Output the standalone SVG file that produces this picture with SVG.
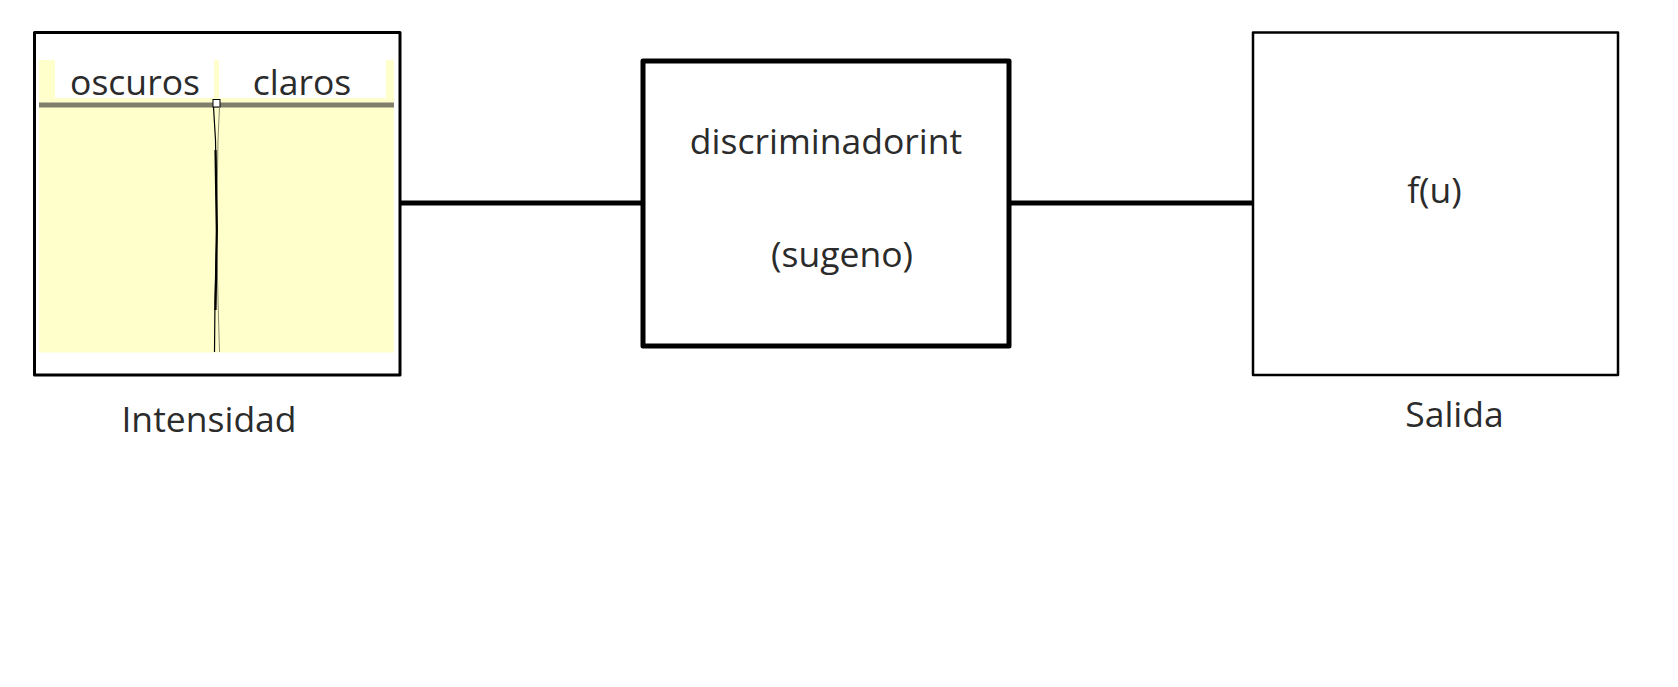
<svg xmlns="http://www.w3.org/2000/svg" width="1678" height="687" viewBox="0 0 1678 687">
<style>
.t{font-family:"Open Sans","Noto Sans","DejaVu Sans",sans-serif;fill:#2b2b2b;text-anchor:middle;font-size:35.5px}
.box{fill:#ffffff;stroke:#000000;stroke-linejoin:round}
.conn{stroke:#000000;stroke-width:5;fill:none}
</style>
<rect width="1678" height="687" fill="#ffffff"/>
<g id="connectors">
<line class="conn" x1="400" y1="203" x2="643" y2="203"/>
<line class="conn" x1="1009" y1="203" x2="1253" y2="203"/>
</g>
<g id="intensidad">
<rect class="box" x="34.5" y="32.5" width="365.5" height="342.5" stroke-width="3"/>
<rect x="39" y="60" width="355" height="292.5" fill="#ffffcc"/>
<rect x="55" y="60" width="159" height="38" fill="#ffffff"/>
<rect x="219" y="60" width="167" height="38" fill="#ffffff"/>
<rect x="39" y="102.5" width="355" height="5" fill="#7f7f6b"/>
<rect x="213" y="99.5" width="7" height="7.5" fill="#ffffff" stroke="#000" stroke-width="1"/>
<path d="M213.5 107 L215.5 140 L217 230 L215 300 L214.5 352" fill="none" stroke="#000" stroke-width="1.2"/>
<path d="M219.5 107 L218 140 L216.5 230 L218 300 L219.5 352" fill="none" stroke="#8a8a70" stroke-width="1"/>
<path d="M215.5 150 L216.8 230 L215.5 310" fill="none" stroke="#000" stroke-width="2.2"/>
<text class="t" x="135" y="95">oscuros</text>
<text class="t" x="302" y="95">claros</text>
<text class="t" x="209" y="432">Intensidad</text>
</g>
<g id="discriminador">
<rect class="box" x="643" y="61" width="366" height="285" stroke-width="5"/>
<text class="t" x="826" y="154">discriminadorint</text>
<text class="t" x="842" y="267">(sugeno)</text>
</g>
<g id="salida">
<rect class="box" x="1253" y="32.5" width="365" height="342.5" stroke-width="2.5"/>
<text class="t" x="1434.5" y="203">f(u)</text>
<text class="t" x="1454.5" y="427">Salida</text>
</g>
</svg>
